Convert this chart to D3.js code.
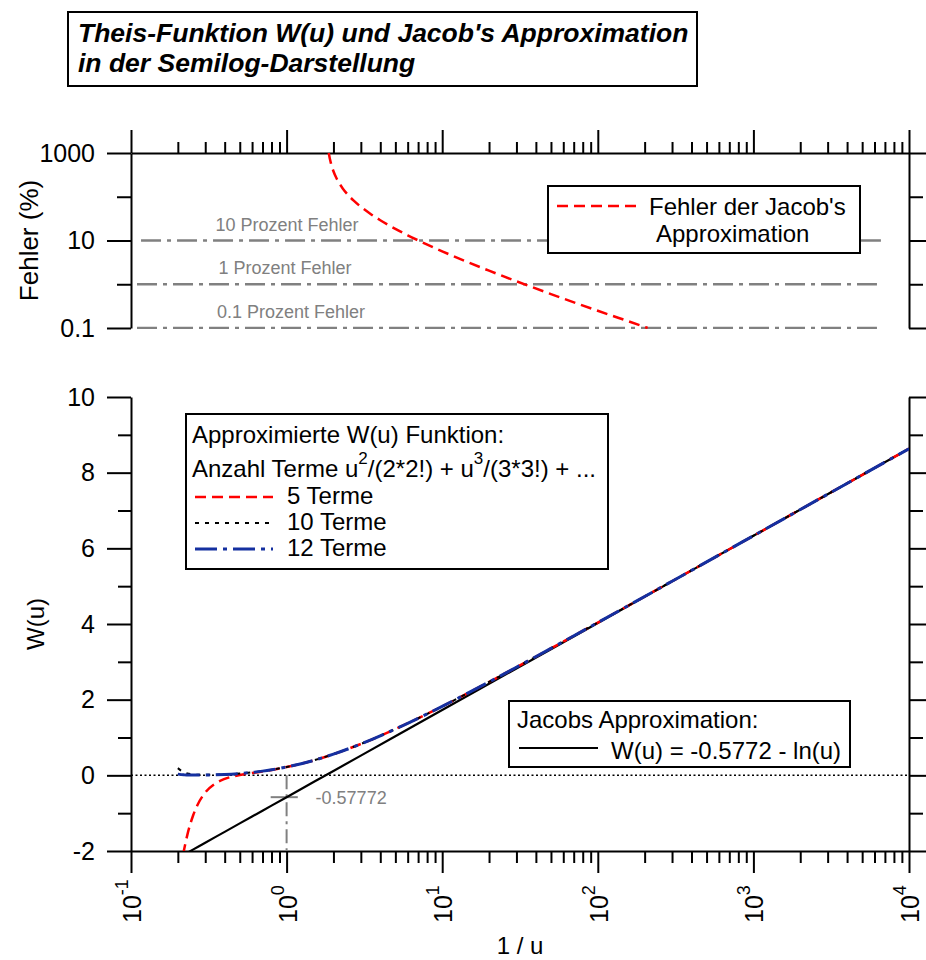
<!DOCTYPE html>
<html>
<head>
<meta charset="utf-8">
<script src="https://cdn.jsdelivr.net/npm/d3@7/dist/d3.min.js"></script>
<style>
  html, body { margin: 0; padding: 0; background: #fff; }
  svg { display: block; font-family: "Liberation Sans", Arial, sans-serif; }
</style>
</head>
<body>
<svg id="chart" width="926" height="960"></svg>
<script>
// ---- data -------------------------------------------------------------
// 1/u sample points for the W(u) curves
const invU = [0.2, 0.2185, 0.22, 0.23, 0.25, 0.27, 0.3, 0.35, 0.4, 0.5, 0.6, 0.7, 0.8, 1, 1.5, 2, 3, 5, 7, 10, 14, 20, 30, 50, 100, 300, 1000, 3000, 10000];
// series approximation with 5 terms
const w5 = [-3.00, -2.00, -1.94, -1.58, -1.075, -0.750, -0.454, -0.209, -0.095, 0.0075, 0.0611, 0.1031, 0.1422, 0.2180, 0.3982, 0.5597, 0.8289, 1.2227, 1.5066, 1.8229, 2.1321, 2.4679, 2.8571, 3.3547, 4.0379, 5.1299, 6.3315, 7.4295, 8.6332];
// series approximation with 10 terms
const w10 = [0.190, 0.082, 0.077, 0.051, 0.0255, 0.0156, 0.0125, 0.0166, 0.0250, 0.0489, 0.0785, 0.1115, 0.1465, 0.2194, 0.3984, 0.5598, 0.8289, 1.2227, 1.5066, 1.8229, 2.1321, 2.4679, 2.8571, 3.3547, 4.0379, 5.1299, 6.3315, 7.4295, 8.6332];
// series approximation with 12 terms
const w12 = [0.032, 0.013, 0.012, 0.0087, 0.0061, 0.0064, 0.0092, 0.0157, 0.0249, 0.0489, 0.0785, 0.1115, 0.1465, 0.2194, 0.3984, 0.5598, 0.8289, 1.2227, 1.5066, 1.8229, 2.1321, 2.4679, 2.8571, 3.3547, 4.0379, 5.1299, 6.3315, 7.4295, 8.6332];
// Jacob's approximation W(u) = -0.5772 - ln(u)
const jacob = [-2.1866, -2.0980, -2.0912, -2.0467, -1.9635, -1.8865, -1.7812, -1.6270, -1.4935, -1.2703, -1.0880, -0.9339, -0.8003, -0.5772, -0.1717, 0.1159, 0.5214, 1.0322, 1.3687, 1.7254, 2.0619, 2.4185, 2.8240, 3.3348, 4.0280, 5.1266, 6.3306, 7.4292, 8.6332];

// relative error of Jacob's approximation (%)
const errInvU = [1.866, 1.88, 1.9, 1.93, 2.0, 2.1, 2.2, 2.3, 2.5, 2.7, 3, 3.5, 4, 5, 6, 7, 10, 14, 20, 30, 50, 100, 200, 209];
const errPct  = [1000, 866, 718, 570, 383, 258, 193, 153, 107, 81.4, 59.0, 39.45, 29.07, 18.45, 13.17, 10.08, 5.654, 3.403, 2.042, 1.171, 0.597, 0.2476, 0.1058, 0.1];

// reference error levels
const errLevels = [10, 1, 0.1];
const errLevelLabels = ["10 Prozent Fehler", "1 Prozent Fehler", "0.1 Prozent Fehler"];
const errLevelFrom = [0.116, 0.1093, 0.1093];
const errLevelTo = [6600, 6225, 6225];

// marker where Jacob's line meets 1/u = 1
const markX = 1;
const markY = -0.5772;
const markLabel = "-0.57772";

// ticks
const xMajor = [0.1, 1, 10, 100, 1000, 10000];
const xExp = ["-1", "0", "1", "2", "3", "4"];
const xMinor = [];
xMajor.slice(0, -1).forEach(d => { for (let m = 2; m <= 9; m++) xMinor.push(+(m * d).toPrecision(3)); });
const errMajor = [1000, 10, 0.1];
const errMajorLabels = ["1000", "10", "0.1"];
const errMinor = [100, 1];
const wMajor = [-2, 0, 2, 4, 6, 8, 10];
const wMinor = [-1, 1, 3, 5, 7, 9];

// ---- drawing ----------------------------------------------------------
const svg = d3.select("#chart");
const FONT = '"Liberation Sans", Arial, sans-serif';

const x = d3.scaleLog().domain([0.1, 10000]).range([131, 909]);
const yErr = d3.scaleLog().domain([0.1, 1000]).range([328, 153]);
const yW = d3.scaleLinear().domain([-2, 10]).range([851, 397]);

const defs = svg.append("defs");
defs.append("clipPath").attr("id", "clipTop").append("rect")
  .attr("x", x(0.1)).attr("y", yErr(1000) - 1).attr("width", x(10000) - x(0.1)).attr("height", yErr(0.1) - yErr(1000) + 2);
defs.append("clipPath").attr("id", "clipBot").append("rect")
  .attr("x", x(0.1)).attr("y", yW(10)).attr("width", x(10000) - x(0.1)).attr("height", yW(-2) - yW(10));

function styleAxis(g) {
  g.attr("font-family", FONT).attr("font-size", 25);
  g.selectAll("line").attr("stroke", "#000").attr("stroke-width", 2);
  g.selectAll("path.domain").attr("stroke", "#000").attr("stroke-width", 2);
  g.selectAll("text").attr("fill", "#000");
}

// ---- title --------------------------------------------------------------
svg.append("rect").attr("x", 68).attr("y", 12).attr("width", 629).attr("height", 74)
  .attr("fill", "#fff").attr("stroke", "#000").attr("stroke-width", 2);
const title = svg.append("text").attr("font-family", FONT).attr("font-weight", "bold")
  .attr("font-style", "italic").attr("font-size", 26.5).attr("fill", "#000");
title.append("tspan").attr("x", 78).attr("y", 42).text("Theis-Funktion W(u) und Jacob's Approximation");
title.append("tspan").attr("x", 78).attr("y", 72).text("in der Semilog-Darstellung");

// ---- upper panel: error -------------------------------------------------
// top x axis
svg.append("g").attr("transform", `translate(0,${yErr(1000)})`)
  .call(d3.axisTop(x).tickValues(xMajor).tickSize(23).tickSizeOuter(0).tickFormat(""))
  .call(styleAxis);
svg.append("g").attr("transform", `translate(0,${yErr(1000)})`)
  .call(d3.axisTop(x).tickValues(xMinor).tickSize(11).tickSizeOuter(0).tickFormat(""))
  .call(g => g.select(".domain").remove()).call(styleAxis);

// left y axis
svg.append("g").attr("transform", `translate(${x(0.1)},0)`)
  .call(d3.axisLeft(yErr).tickValues(errMajor).tickSize(24).tickSizeOuter(0).tickPadding(12)
    .tickFormat((d, i) => errMajorLabels[i]))
  .call(styleAxis);
svg.append("g").attr("transform", `translate(${x(0.1)},0)`)
  .call(d3.axisLeft(yErr).tickValues(errMinor).tickSize(14).tickSizeOuter(0).tickFormat(""))
  .call(g => g.select(".domain").remove()).call(styleAxis);

// right y axis
svg.append("g").attr("transform", `translate(${x(10000)},0)`)
  .call(d3.axisRight(yErr).tickValues(errMajor).tickSize(23).tickSizeOuter(0).tickFormat(""))
  .call(styleAxis);
svg.append("g").attr("transform", `translate(${x(10000)},0)`)
  .call(d3.axisRight(yErr).tickValues(errMinor).tickSize(14).tickSizeOuter(0).tickFormat(""))
  .call(g => g.select(".domain").remove()).call(styleAxis);

svg.append("text").attr("font-family", FONT).attr("font-size", 26)
  .attr("transform", `translate(38,${(yErr(1000) + yErr(0.1)) / 2}) rotate(-90)`)
  .attr("text-anchor", "middle").text("Fehler (%)");

// reference error levels
const topPlot = svg.append("g").attr("clip-path", "url(#clipTop)");
errLevels.forEach((lv, i) => {
  topPlot.append("line")
    .attr("x1", x(errLevelFrom[i])).attr("x2", x(errLevelTo[i]))
    .attr("y1", yErr(lv)).attr("y2", yErr(lv))
    .attr("stroke", "#808080").attr("stroke-width", 2.5)
    .attr("stroke-dasharray", "20,6,4,6");
});
const levelLabelX = [287, 285, 291];
errLevels.forEach((lv, i) => {
  svg.append("text").attr("font-family", FONT).attr("font-size", 18).attr("fill", "#808080")
    .attr("text-anchor", "middle").attr("x", levelLabelX[i]).attr("y", yErr(lv) - 10)
    .text(errLevelLabels[i]);
});

const errLine = d3.line().x((d, i) => x(errInvU[i])).y(d => yErr(d)).curve(d3.curveMonotoneX);
topPlot.append("path").datum(errPct).attr("d", errLine)
  .attr("fill", "none").attr("stroke", "#ff0000").attr("stroke-width", 2.5)
  .attr("stroke-dasharray", "11,6");

// legend (upper)
svg.append("rect").attr("x", 548).attr("y", 186).attr("width", 312).attr("height", 67)
  .attr("fill", "#fff").attr("stroke", "#000").attr("stroke-width", 2);
svg.append("line").attr("x1", 557).attr("x2", 637).attr("y1", 206).attr("y2", 206)
  .attr("stroke", "#ff0000").attr("stroke-width", 2.5).attr("stroke-dasharray", "11,6");
svg.append("text").attr("font-family", FONT).attr("font-size", 24).attr("x", 649).attr("y", 215)
  .text("Fehler der Jacob's");
svg.append("text").attr("font-family", FONT).attr("font-size", 24).attr("x", 656).attr("y", 242)
  .text("Approximation");

// ---- lower panel: W(u) ----------------------------------------------------
// bottom x axis
svg.append("g").attr("transform", `translate(0,${yW(-2)})`)
  .call(d3.axisBottom(x).tickValues(xMajor).tickSize(22).tickSizeOuter(0).tickFormat(""))
  .call(styleAxis);
svg.append("g").attr("transform", `translate(0,${yW(-2)})`)
  .call(d3.axisBottom(x).tickValues(xMinor).tickSize(12).tickSizeOuter(0).tickFormat(""))
  .call(g => g.select(".domain").remove()).call(styleAxis);

// rotated decade labels 10^n
xMajor.forEach((v, i) => {
  const t = svg.append("text").attr("font-family", FONT).attr("font-size", 25)
    .attr("transform", `translate(${x(v) + 10},923) rotate(-90)`)
    .attr("text-anchor", "start");
  t.append("tspan").text("10");
  t.append("tspan").attr("font-size", 18).attr("dy", -13).text(xExp[i]);
});

// left y axis
svg.append("g").attr("transform", `translate(${x(0.1)},0)`)
  .call(d3.axisLeft(yW).tickValues(wMajor).tickSize(24).tickSizeOuter(0).tickPadding(12)
    .tickFormat(d => String(d)))
  .call(styleAxis);
svg.append("g").attr("transform", `translate(${x(0.1)},0)`)
  .call(d3.axisLeft(yW).tickValues(wMinor).tickSize(13).tickSizeOuter(0).tickFormat(""))
  .call(g => g.select(".domain").remove()).call(styleAxis);

// right y axis
svg.append("g").attr("transform", `translate(${x(10000)},0)`)
  .call(d3.axisRight(yW).tickValues(wMajor).tickSize(23).tickSizeOuter(0).tickFormat(""))
  .call(styleAxis);
svg.append("g").attr("transform", `translate(${x(10000)},0)`)
  .call(d3.axisRight(yW).tickValues(wMinor).tickSize(14).tickSizeOuter(0).tickFormat(""))
  .call(g => g.select(".domain").remove()).call(styleAxis);

svg.append("text").attr("font-family", FONT).attr("font-size", 24)
  .attr("transform", `translate(44,${(yW(10) + yW(-2)) / 2}) rotate(-90)`)
  .attr("text-anchor", "middle").text("W(u)");
svg.append("text").attr("font-family", FONT).attr("font-size", 24)
  .attr("x", (x(0.1) + x(10000)) / 2).attr("y", 954).attr("text-anchor", "middle").text("1 / u");

const botPlot = svg.append("g").attr("clip-path", "url(#clipBot)");

// W = 0 reference line
botPlot.append("line").attr("x1", x(0.1)).attr("x2", x(10000)).attr("y1", yW(0)).attr("y2", yW(0))
  .attr("stroke", "#000").attr("stroke-width", 1.5).attr("stroke-dasharray", "2,2.5");

// marker at 1/u = 1
botPlot.append("line").attr("x1", x(markX)).attr("x2", x(markX)).attr("y1", yW(0)).attr("y2", yW(-2))
  .attr("stroke", "#808080").attr("stroke-width", 2).attr("stroke-dasharray", "14,5,3,5");
botPlot.append("line").attr("x1", x(0.79)).attr("x2", x(1.18)).attr("y1", yW(markY)).attr("y2", yW(markY))
  .attr("stroke", "#808080").attr("stroke-width", 2);
svg.append("text").attr("font-family", FONT).attr("font-size", 18).attr("fill", "#808080")
  .attr("x", x(markX) + 29).attr("y", yW(markY) + 7).text(markLabel);

const wLine = d3.line().x((d, i) => x(invU[i])).y(d => yW(d)).curve(d3.curveMonotoneX);
botPlot.append("path").datum(jacob).attr("d", d3.line().x((d, i) => x(invU[i])).y(d => yW(d)))
  .attr("fill", "none").attr("stroke", "#000").attr("stroke-width", 2.2);
botPlot.append("path").datum(w5).attr("d", wLine)
  .attr("fill", "none").attr("stroke", "#ff0000").attr("stroke-width", 2.5).attr("stroke-dasharray", "11,6");
botPlot.append("path").datum(w10).attr("d", wLine)
  .attr("fill", "none").attr("stroke", "#000").attr("stroke-width", 2).attr("stroke-dasharray", "4,6");
botPlot.append("path").datum(w12).attr("d", wLine)
  .attr("fill", "none").attr("stroke", "#1530a0").attr("stroke-width", 3).attr("stroke-dasharray", "22,6,4,6");

// legend: series approximations
svg.append("rect").attr("x", 186).attr("y", 414).attr("width", 422).attr("height", 155)
  .attr("fill", "#fff").attr("stroke", "#000").attr("stroke-width", 2);
svg.append("text").attr("font-family", FONT).attr("font-size", 24).attr("x", 192).attr("y", 443)
  .text("Approximierte W(u) Funktion:");
const l2 = svg.append("text").attr("font-family", FONT).attr("font-size", 24).attr("x", 192).attr("y", 477);
l2.append("tspan").text("Anzahl Terme u");
l2.append("tspan").attr("font-size", 17).attr("dy", -13).text("2");
l2.append("tspan").attr("dy", 13).text("/(2*2!) + u");
l2.append("tspan").attr("font-size", 17).attr("dy", -13).text("3");
l2.append("tspan").attr("dy", 13).text("/(3*3!) + ...");

const legendItems = [
  { label: "5 Terme", color: "#ff0000", width: 2.5, dash: "11,6", y: 497 },
  { label: "10 Terme", color: "#000", width: 2, dash: "4,6", y: 523 },
  { label: "12 Terme", color: "#1530a0", width: 3, dash: "22,6,4,6", y: 549 }
];
legendItems.forEach(it => {
  svg.append("line").attr("x1", 195).attr("x2", 273).attr("y1", it.y).attr("y2", it.y)
    .attr("stroke", it.color).attr("stroke-width", it.width).attr("stroke-dasharray", it.dash);
  svg.append("text").attr("font-family", FONT).attr("font-size", 24).attr("x", 287).attr("y", it.y + 7)
    .text(it.label);
});

// legend: Jacob's approximation
svg.append("rect").attr("x", 509).attr("y", 701).attr("width", 341).attr("height", 66)
  .attr("fill", "#fff").attr("stroke", "#000").attr("stroke-width", 2);
svg.append("text").attr("font-family", FONT).attr("font-size", 24).attr("x", 517).attr("y", 728)
  .text("Jacobs Approximation:");
svg.append("line").attr("x1", 519).attr("x2", 598).attr("y1", 748).attr("y2", 748)
  .attr("stroke", "#000").attr("stroke-width", 2);
svg.append("text").attr("font-family", FONT).attr("font-size", 24).attr("x", 611).attr("y", 759)
  .text("W(u) = -0.5772 - ln(u)");
</script>
</body>
</html>
